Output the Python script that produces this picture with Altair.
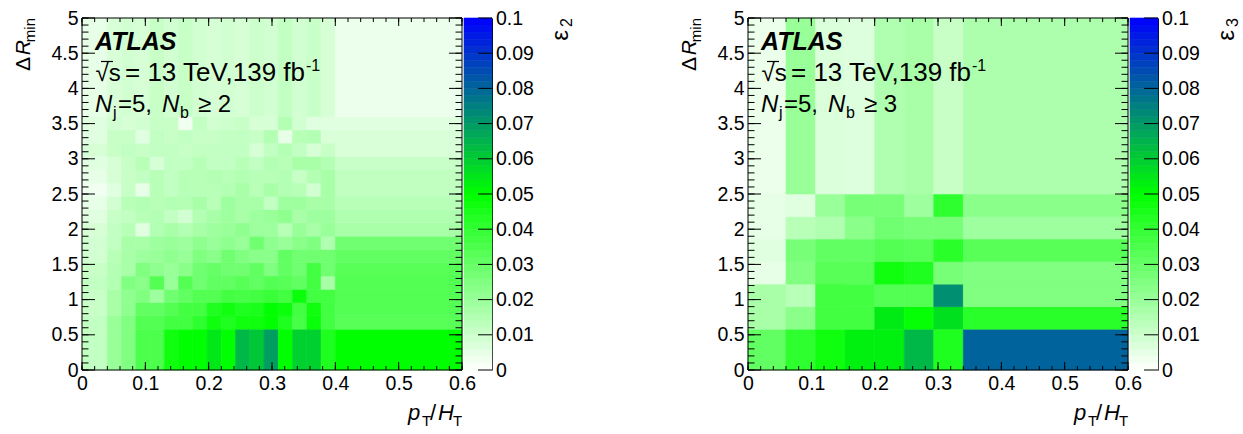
import altair as alt
import pandas as pd

FONT = "Liberation Sans"
W, H = 380, 352          # heat-map plot area
CB_W = 28                # colour-bar width

# ---------------- bin edges ----------------
eps2_x_edges = [0.0, 0.04, 0.0625, 0.085, 0.1075, 0.13, 0.1525, 0.175, 0.1975, 0.22,
                0.2425, 0.265, 0.2875, 0.31, 0.3325, 0.355, 0.3775, 0.4, 0.6]
eps2_y_edges = [0.0, 0.58, 0.769, 0.958, 1.146, 1.335, 1.524, 1.713, 1.901, 2.09,
                2.279, 2.468, 2.656, 2.845, 3.034, 3.223, 3.411, 3.6, 5.0]
eps3_x_edges = [0.0, 0.06, 0.1067, 0.1533, 0.2, 0.2467, 0.2933, 0.34, 0.6]
eps3_y_edges = [0.0, 0.58, 0.9, 1.22, 1.54, 1.86, 2.18, 2.5, 5.0]

# ---------------- epsilon_2 values (x 1e-3), one list per Delta R bin, bottom to top ----------------
eps2_dr00 = [12, 20, 25, 35, 35, 47, 50, 50, 54.5, 50, 64, 61, 69, 50, 59, 59, 44, 50]
eps2_dr01 = [12, 20, 25, 34, 34, 37, 37, 41, 47, 44, 47, 47, 50, 44, 36, 48, 37, 33]
eps2_dr02 = [11, 17, 22, 31, 31, 34, 37, 37, 44, 47, 44, 45, 50, 48, 37, 47, 37, 34]
eps2_dr03 = [11, 17, 22, 25, 19, 28, 31, 34, 34, 37, 36, 37, 39, 37, 48, 37, 37, 34]
eps2_dr04 = [12, 15, 25, 23, 34, 20, 34, 28, 31, 31, 33, 31, 34, 33, 31, 37, 17, 34]
eps2_dr05 = [11, 15, 17, 25, 22, 20, 23, 28, 30, 28, 28, 31, 25, 31, 28, 37, 28, 33]
eps2_dr06 = [9, 14, 17, 19, 20, 22, 20, 25, 23, 28, 25, 23, 23, 31, 28, 28, 28, 31]
eps2_dr07 = [9, 12, 17, 17, 19, 20, 19, 22, 20, 22, 20, 28, 22, 20, 23, 25, 15.5, 28]
eps2_dr08 = [8, 12, 14, 6, 15, 17, 15, 17, 19, 20, 22, 19, 19, 14, 20, 17, 20, 17]
eps2_dr09 = [6, 11, 12, 14, 15, 12, 9, 15, 17, 19, 17, 19, 20, 22, 17, 19, 19, 15.5]
eps2_dr10 = [5, 9, 14, 15, 14, 15, 15, 17, 14, 19, 17, 17, 12, 19, 19, 17, 17, 14]
eps2_dr11 = [3, 6, 11, 5, 14, 12, 14, 14, 14, 15, 17, 14, 17, 15, 14, 9, 17, 12.4]
eps2_dr12 = [5, 8, 11, 12, 14, 12, 14, 14, 15, 14, 15, 14, 14, 15, 11, 15, 17, 12.4]
eps2_dr13 = [6, 8, 11, 14, 8, 12, 12, 14, 12, 12, 14, 12, 15, 14, 17, 17, 15, 10.8]
eps2_dr14 = [8, 11, 12, 11, 12, 12, 11, 12, 12, 12, 12, 8, 12, 15, 12, 8, 11, 7.6]
eps2_dr15 = [6, 11, 11, 6, 12, 11, 12, 11, 11, 12, 12, 11, 15, 5, 14, 15, 7.5, 7.6]
eps2_dr16 = [6, 9, 8, 9, 11, 11, 3, 12, 9, 10, 11, 8, 8, 15, 9, 6, 6, 6]
eps2_dr17 = [5, 7.5, 9, 8, 11, 9, 11, 9, 8, 9, 8, 10, 9, 12, 9, 10.5, 8, 3.7]
eps2_rows = [eps2_dr00, eps2_dr01, eps2_dr02, eps2_dr03, eps2_dr04, eps2_dr05,
             eps2_dr06, eps2_dr07, eps2_dr08, eps2_dr09, eps2_dr10, eps2_dr11,
             eps2_dr12, eps2_dr13, eps2_dr14, eps2_dr15, eps2_dr16, eps2_dr17]

# ---------------- epsilon_3 values (x 1e-3) ----------------
eps3_dr0 = [31, 41, 47, 53, 53, 64, 44, 80.5]
eps3_dr1 = [17, 23, 37, 37, 54, 49, 56, 42]
eps3_dr2 = [17, 14, 37, 37, 34, 34, 72, 25]
eps3_dr3 = [5, 25, 33, 33, 47, 44, 26.5, 25]
eps3_dr4 = [6, 26.5, 31, 31, 34, 33, 42, 33]
eps3_dr5 = [5, 14, 15.5, 23, 28, 26.5, 26.5, 19]
eps3_dr6 = [5, 6, 20, 26.5, 26.5, 19, 41, 23]
eps3_dr7 = [4, 20, 7, 6.5, 15.5, 17, 11, 16]
eps3_rows = [eps3_dr0, eps3_dr1, eps3_dr2, eps3_dr3, eps3_dr4, eps3_dr5, eps3_dr6, eps3_dr7]

# ---------------- axis ticks ----------------
x_labels = [0, 0.1, 0.2, 0.3, 0.4, 0.5, 0.6]
y_labels = [0, 0.5, 1, 1.5, 2, 2.5, 3, 3.5, 4, 4.5, 5]
z_labels = [0, 0.01, 0.02, 0.03, 0.04, 0.05, 0.06, 0.07, 0.08, 0.09, 0.1]
x_minor = [round(0.02 * k, 2) for k in range(31)]
y_minor = [round(0.1 * k, 1) for k in range(51)]

cscale = alt.Scale(domain=[0, 0.05, 0.1], range=["#ffffff", "#00ff00", "#0000ff"],
                   interpolate="rgb")


def txt(text, x, y, size, style="normal", weight="normal", angle=0, align="left"):
    return alt.Chart(pd.DataFrame({"t": [text]})).mark_text(
        font=FONT, fontSize=size, fontStyle=style, fontWeight=weight, angle=angle,
        align=align, baseline="alphabetic", color="black"
    ).encode(x=alt.value(x), y=alt.value(y), text="t:N")


def dot(x, y):
    # tiny white layout anchor (invisible on the white page)
    return alt.Chart(pd.DataFrame({"f": [0]})).mark_rect(color="white").encode(
        x=alt.value(x), x2=alt.value(x + 1), y=alt.value(y), y2=alt.value(y + 1))


def heat_panel(x_edges, y_edges, rows, nb_text):
    recs = []
    for j, row in enumerate(rows):
        for i, v in enumerate(row):
            recs.append(dict(x0=x_edges[i], x1=x_edges[i + 1],
                             y0=y_edges[j], y1=y_edges[j + 1], v=v / 1000.0))
    df = pd.DataFrame(recs)
    xs = alt.Scale(domain=[0, 0.6], nice=False, zero=False)
    ys = alt.Scale(domain=[0, 5], nice=False, zero=False)
    common_ax = dict(grid=False, ticks=False, domain=False, labelFont=FONT,
                     labelFontSize=19.5, labelColor="black", labelOverlap=False,
                     format="~g", title=None)
    x_axis = alt.Axis(values=x_labels, labelPadding=4.5, labelFlush=False, **common_ax)
    y_axis = alt.Axis(values=y_labels, labelPadding=4, **common_ax)

    cells = alt.Chart(df).mark_rect(strokeWidth=0.6).encode(
        x=alt.X("x0:Q", scale=xs, axis=x_axis),
        x2="x1:Q",
        y=alt.Y("y0:Q", scale=ys, axis=y_axis),
        y2="y1:Q",
        fill=alt.Fill("v:Q", scale=cscale, legend=None),
        stroke=alt.Stroke("v:Q", scale=cscale, legend=None),
    )

    def xt(vals, ya, yb):
        return alt.Chart(pd.DataFrame({"x0": vals})).mark_rule(color="black", strokeWidth=1).encode(
            x=alt.X("x0:Q", scale=xs, axis=x_axis), y=alt.value(ya), y2=alt.value(yb))

    def yt(vals, xa, xb):
        return alt.Chart(pd.DataFrame({"y0": vals})).mark_rule(color="black", strokeWidth=1).encode(
            y=alt.Y("y0:Q", scale=ys, axis=y_axis), x=alt.value(xa), x2=alt.value(xb))

    ticks = [xt(x_minor, H, H - 4), xt(x_labels, H, H - 8),
             xt(x_minor, 0, 4), xt(x_labels, 0, 8),
             yt(y_minor, 0, 6.5), yt(y_labels, 0, 13),
             yt(y_minor, W, W - 6.5), yt(y_labels, W, W - 13)]

    frame = alt.Chart(pd.DataFrame({"f": [0]})).mark_rect(
        fillOpacity=0, stroke="black", strokeWidth=1).encode(
        x=alt.value(0), x2=alt.value(W), y=alt.value(0), y2=alt.value(H))

    overline = alt.Chart(pd.DataFrame({"f": [0]})).mark_rule(
        color="black", strokeWidth=1.2).encode(
        x=alt.value(19), x2=alt.value(31), y=alt.value(43.5))

    texts = [
        txt("ATLAS", 13, 32, 25, style="italic", weight="bold"),
        txt("√s", 13.5, 63, 24),
        txt("= 13 TeV,139 fb", 43, 63, 26),
        txt("-1", 224, 53, 16),
        txt("N", 13, 94, 24, style="italic"),
        txt("j", 31, 100, 16),
        txt("=5,", 36, 94, 24),
        txt("N", 80, 94, 24, style="italic"),
        txt("b", 98, 100, 16),
        txt(nb_text, 116, 94, 24),
        # x-axis title  p_T / H_T
        txt("p", 326, 402, 22, style="italic"),
        txt("T", 340, 408, 15),
        txt("/", 348, 402, 22),
        txt("H", 356, 402, 22, style="italic"),
        txt("T", 371, 408, 15),
        # y-axis title  Delta R_min
        txt("Δ", -52, 39, 21, angle=270, align="right"),
        txt("R", -52, 22, 21, style="italic", angle=270, align="right"),
        txt("min", -47, 0, 15, angle=270, align="right"),
    ]
    layers = [cells] + ticks + [frame, overline] + texts + [dot(-82, -18)]
    return alt.layer(*layers).properties(width=W, height=H)


def colorbar(sub, right_anchor=None):
    bands = pd.DataFrame({"lo": [k * 0.002 for k in range(50)]})
    bands["hi"] = bands["lo"] + 0.002
    bands["mid"] = bands["lo"] + 0.001
    zs = alt.Scale(domain=[0, 0.1], nice=False, zero=False)
    z_axis = alt.Axis(orient="right", values=z_labels, format="~g", grid=False, ticks=False,
                      domain=True, domainColor="black", domainWidth=1, labelFont=FONT,
                      labelFontSize=19.5, labelColor="black", labelPadding=3.5,
                      labelOverlap=False, title=None)
    bar = alt.Chart(bands).mark_rect(strokeWidth=0.6).encode(
        y=alt.Y("lo:Q", scale=zs, axis=z_axis),
        y2="hi:Q",
        x=alt.value(0), x2=alt.value(CB_W),
        fill=alt.Fill("mid:Q", scale=cscale, legend=None),
        stroke=alt.Stroke("mid:Q", scale=cscale, legend=None),
    )
    zt = alt.Chart(pd.DataFrame({"lo": z_labels})).mark_rule(color="black", strokeWidth=1).encode(
        y=alt.Y("lo:Q", scale=zs, axis=z_axis), x=alt.value(CB_W - 14), x2=alt.value(CB_W))
    t1 = txt("ε", 104, 12, 24, angle=270, align="right")
    t2 = txt(sub, 108, 0, 16, angle=270, align="right")
    layers = [bar, zt, t1, t2]
    if right_anchor is not None:
        layers.append(dot(right_anchor, 0))
    return alt.layer(*layers).properties(width=CB_W, height=H)


# left group right bound = 464 + 140 = 604 ; right group left bound = 748 - 82 = 666
left = alt.hconcat(heat_panel(eps2_x_edges, eps2_y_edges, eps2_rows, "≥ 2"),
                   colorbar("2", right_anchor=139), spacing=2, bounds="flush")
right = alt.hconcat(heat_panel(eps3_x_edges, eps3_y_edges, eps3_rows, "≥ 3"),
                    colorbar("3"), spacing=2, bounds="flush")

chart = alt.hconcat(left, right, spacing=62, bounds="full").properties(
    padding=0
).configure_view(strokeWidth=0)

chart.save("out.html", embed_options={"renderer": "svg", "actions": False})
